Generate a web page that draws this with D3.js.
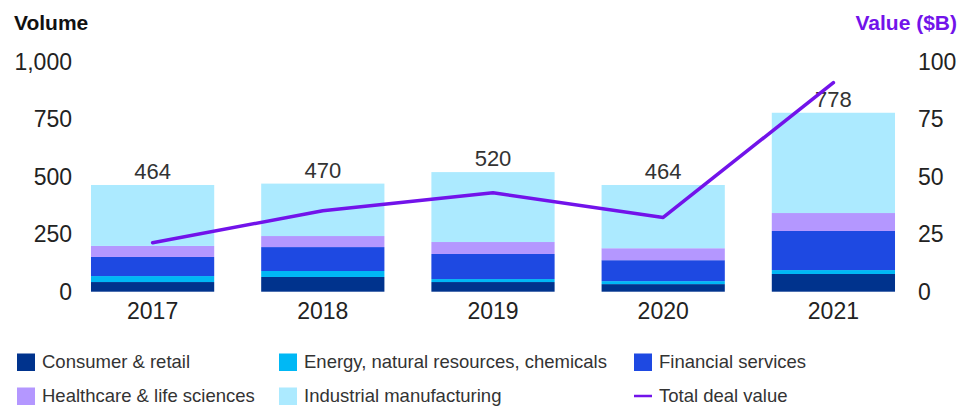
<!DOCTYPE html>
<html>
<head>
<meta charset="utf-8">
<script src="https://cdn.jsdelivr.net/npm/d3@7"></script>
<style>
  html, body { margin: 0; padding: 0; background: #fff; }
  svg { display: block; font-family: "Liberation Sans", Arial, sans-serif; }
</style>
</head>
<body>
<svg id="chart" width="974" height="406"></svg>
<script>
const years = ["2017", "2018", "2019", "2020", "2021"];
const seriesNames = ["Consumer & retail", "Energy, natural resources, chemicals", "Financial services", "Healthcare & life sciences", "Industrial manufacturing"];
const consumer = [42, 64, 42, 33, 77];
const energy = [26, 26, 13, 13, 17];
const financial = [83, 104, 109, 91, 170];
const healthcare = [48, 48, 52, 52, 78];
const industrial = [265, 228, 304, 275, 436];
const totals = [464, 470, 520, 464, 778];
const dealValue = [21.3, 35.2, 43.0, 32.3, 90.9];
const leftTicks = [0, 250, 500, 750, 1000];
const rightTicks = [0, 25, 50, 75, 100];
const colors = ["#00338D", "#00B8F5", "#1E49E2", "#B497FF", "#ACEAFF"];
const lineColor = "#7213EA";

const svg = d3.select("#chart");
const x = d3.scaleBand().domain(years).range([67.5, 918.5]).paddingInner(0.276).paddingOuter(0.138);
const yL = d3.scaleLinear().domain([0, 1000]).range([291.7, 61.7]);
const yR = d3.scaleLinear().domain([0, 100]).range([291.7, 61.7]);

const rows = years.map((yr, i) => ({year: yr, s0: consumer[i], s1: energy[i], s2: financial[i], s3: healthcare[i], s4: industrial[i]}));
const stack = d3.stack().keys(["s0", "s1", "s2", "s3", "s4"])(rows);

svg.append("g").selectAll("g").data(stack).join("g")
  .attr("fill", (d, i) => colors[i])
  .selectAll("rect").data(d => d).join("rect")
  .attr("x", d => x(d.data.year))
  .attr("width", x.bandwidth())
  .attr("y", d => yL(d[1]))
  .attr("height", d => yL(d[0]) - yL(d[1]));

// total labels
svg.append("g").selectAll("text").data(years).join("text")
  .attr("x", d => x(d) + x.bandwidth() / 2)
  .attr("y", (d, i) => yL(totals[i]) - 6)
  .attr("text-anchor", "middle")
  .attr("font-size", 22)
  .attr("fill", "#333")
  .text((d, i) => totals[i]);

// line
const line = d3.line().x((d, i) => x(years[i]) + x.bandwidth() / 2).y(d => yR(d));
svg.append("path").datum(dealValue)
  .attr("d", line)
  .attr("fill", "none")
  .attr("stroke", lineColor)
  .attr("stroke-width", 3.5)
  .attr("stroke-linecap", "round")
  .attr("stroke-linejoin", "round");

// axes
const leftAxis = d3.axisLeft(yL).tickValues(leftTicks).tickSize(0).tickPadding(0).tickFormat(d3.format(","));
const gl = svg.append("g").attr("transform", "translate(72,0)").call(leftAxis);
gl.select(".domain").remove();
gl.selectAll("text").attr("font-size", 23).attr("fill", "#222").attr("font-family", "Liberation Sans, Arial, sans-serif");

const rightAxis = d3.axisRight(yR).tickValues(rightTicks).tickSize(0).tickPadding(0);
const gr = svg.append("g").attr("transform", "translate(918,0)").call(rightAxis);
gr.select(".domain").remove();
gr.selectAll("text").attr("font-size", 23).attr("fill", "#222").attr("font-family", "Liberation Sans, Arial, sans-serif");

const bottomAxis = d3.axisBottom(x).tickSize(0).tickPadding(0);
const gb = svg.append("g").attr("transform", "translate(0,303)").call(bottomAxis);
gb.select(".domain").remove();
gb.selectAll("text").attr("font-size", 23).attr("fill", "#222").attr("dy", "0.71em").attr("font-family", "Liberation Sans, Arial, sans-serif");

// titles
svg.append("text").attr("x", 14).attr("y", 30).attr("font-size", 21).attr("font-weight", "bold").attr("fill", "#111").text("Volume");
svg.append("text").attr("x", 957).attr("y", 30).attr("text-anchor", "end").attr("font-size", 21).attr("font-weight", "bold").attr("fill", lineColor).text("Value ($B)");

// legend
const legendItems = [
  {name: seriesNames[0], color: colors[0], type: "rect", col: 0, row: 0},
  {name: seriesNames[1], color: colors[1], type: "rect", col: 1, row: 0},
  {name: seriesNames[2], color: colors[2], type: "rect", col: 2, row: 0},
  {name: seriesNames[3], color: colors[3], type: "rect", col: 0, row: 1},
  {name: seriesNames[4], color: colors[4], type: "rect", col: 1, row: 1},
  {name: "Total deal value", color: lineColor, type: "line", col: 2, row: 1}
];
const colX = [17, 279, 634];
const rowY = [362, 396];
const lg = svg.append("g").selectAll("g").data(legendItems).join("g")
  .attr("transform", d => `translate(${colX[d.col]},${rowY[d.row]})`);
lg.filter(d => d.type === "rect").append("rect")
  .attr("x", 0).attr("y", -8.5).attr("width", 18).attr("height", 17.5)
  .attr("fill", d => d.color);
lg.filter(d => d.type === "line").append("line")
  .attr("x1", 0).attr("x2", 18).attr("y1", 0).attr("y2", 0)
  .attr("stroke", d => d.color).attr("stroke-width", 2.5);
lg.append("text")
  .attr("x", 25).attr("y", 0).attr("dy", "0.35em")
  .attr("font-size", 18.5).attr("fill", "#333")
  .text(d => d.name);
</script>
</body>
</html>
